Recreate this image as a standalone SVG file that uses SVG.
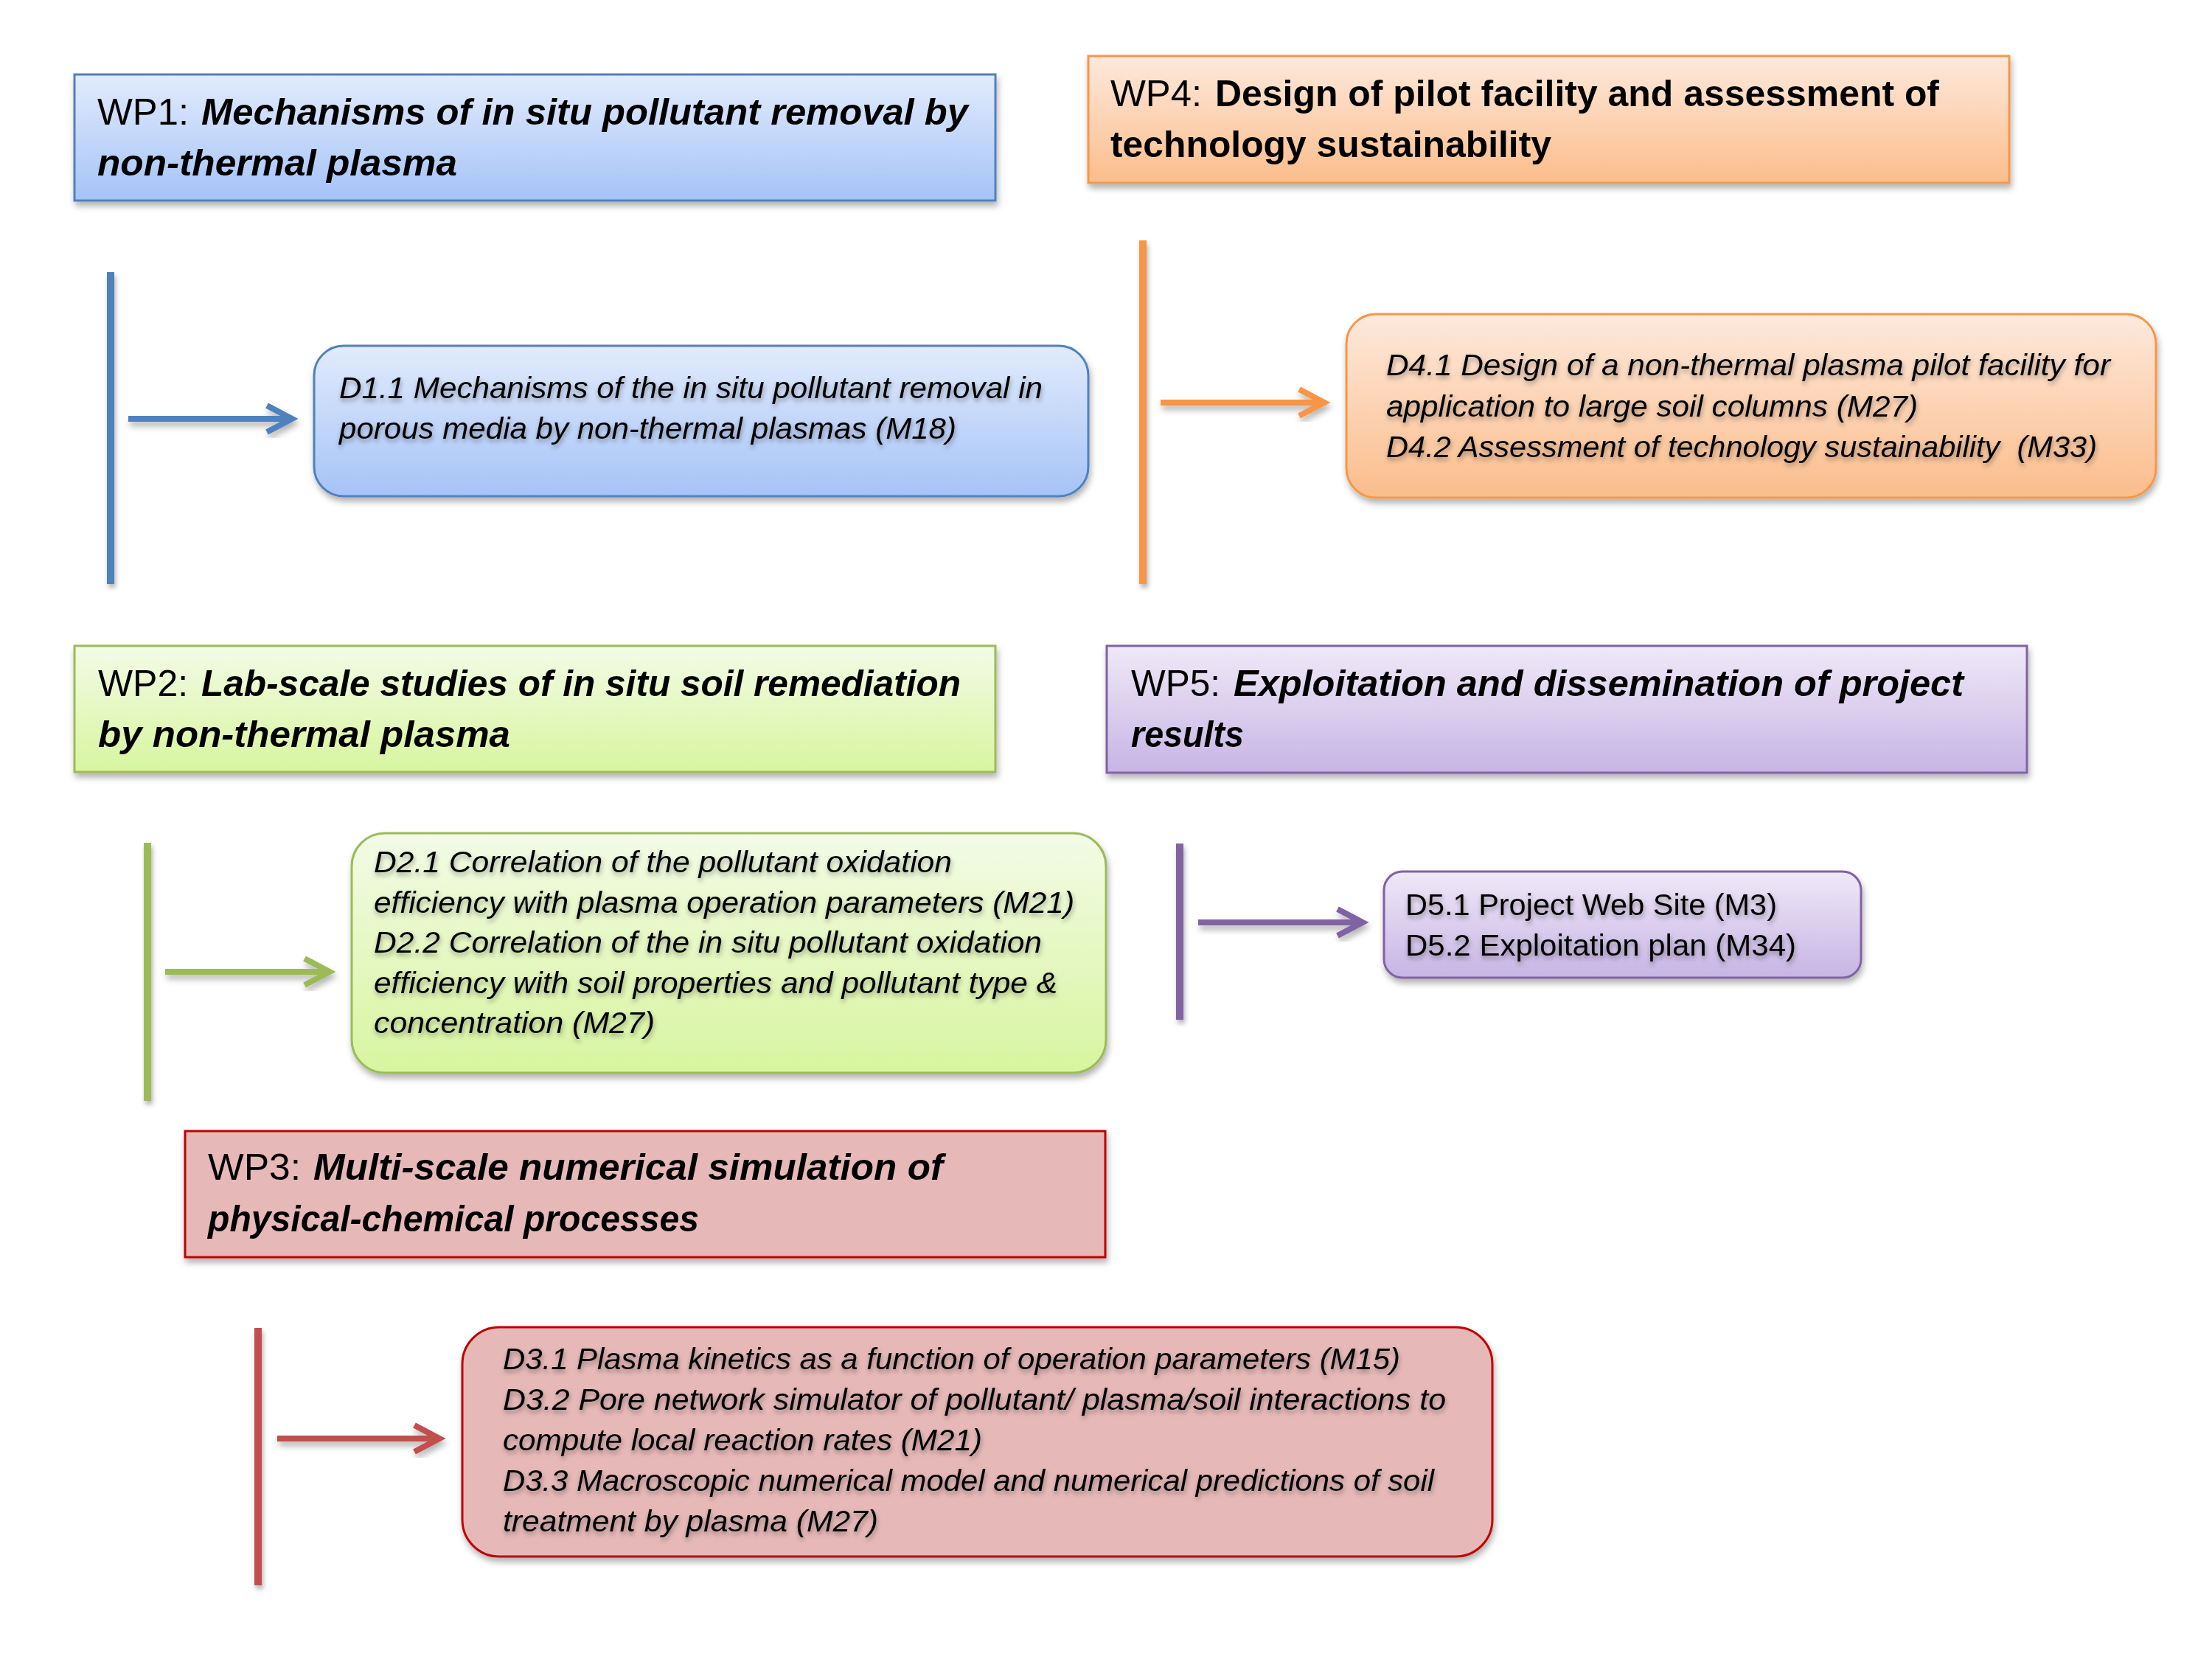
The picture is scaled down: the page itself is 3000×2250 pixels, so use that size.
<svg xmlns="http://www.w3.org/2000/svg" width="3000" height="2250" viewBox="0 0 3000 2250">
<defs>
<style>
text{font-family:"Liberation Sans Narrow","Liberation Sans",Arial,sans-serif;fill:#000}
.t{font-size:50px}
.bi{font-weight:bold;font-style:italic}
.b{font-weight:bold}
.d{font-size:40px;font-style:italic;filter:url(#ts)}
.dn{font-size:40px;filter:url(#ts)}
.wp{stroke-width:3;filter:url(#sh)}
.dl{stroke-width:3;filter:url(#sh)}
.bar{stroke:none;filter:url(#bs)}
.arr{fill:none;stroke-width:8;filter:url(#sh)}
.blue{stroke:#4f81bd}.orange{stroke:#f79646}.green{stroke:#9bbb59}.purple{stroke:#8064a2}.red{stroke:#c0504d}
.fblue{fill:#4f81bd}.forange{fill:#f79646}.fgreen{fill:#9bbb59}.fpurple{fill:#8064a2}.fred{fill:#c0504d}
</style>
<filter id="sh" x="-10%" y="-10%" width="120%" height="130%"><feDropShadow dx="2" dy="6" stdDeviation="4" flood-color="#000" flood-opacity="0.3"/></filter>
<filter id="bs" x="-100%" y="-5%" width="300%" height="115%"><feDropShadow dx="2" dy="5" stdDeviation="3" flood-color="#000" flood-opacity="0.3"/></filter>
<filter id="ts" x="-5%" y="-30%" width="110%" height="170%"><feDropShadow dx="1" dy="4" stdDeviation="3" flood-color="#000" flood-opacity="0.35"/></filter>
<linearGradient id="gB" x1="0" y1="0" x2="0" y2="1"><stop offset="0" stop-color="#e2ebfc"/><stop offset="1" stop-color="#a5c3f7"/></linearGradient>
<linearGradient id="gO" x1="0" y1="0" x2="0" y2="1"><stop offset="0" stop-color="#fde9dc"/><stop offset="1" stop-color="#fbbd8b"/></linearGradient>
<linearGradient id="gG" x1="0" y1="0" x2="0" y2="1"><stop offset="0" stop-color="#f3fbe6"/><stop offset="1" stop-color="#d7f59f"/></linearGradient>
<linearGradient id="gP" x1="0" y1="0" x2="0" y2="1"><stop offset="0" stop-color="#efe9f7"/><stop offset="1" stop-color="#c7b4e5"/></linearGradient>
</defs>
<rect width="3000" height="2250" fill="#fff"/>

<g id="connectors">
<rect class="bar fblue" x="145" y="369" width="10" height="423"/>
<path class="arr blue" d="M174 568 H396 M362 550 L396 568 L362 586"/>
<rect class="bar forange" x="1545" y="326" width="10" height="466"/>
<path class="arr orange" d="M1574 546 H1796 M1762 528 L1796 546 L1762 564"/>
<rect class="bar fgreen" x="195" y="1143" width="10" height="350"/>
<path class="arr green" d="M224 1318 H447 M413 1300 L447 1318 L413 1336"/>
<rect class="bar fpurple" x="1595" y="1144" width="10" height="239"/>
<path class="arr purple" d="M1625 1251 H1848 M1814 1233 L1848 1251 L1814 1269"/>
<rect class="bar fred" x="345" y="1801" width="10" height="349"/>
<path class="arr red" d="M376 1951 H596 M562 1933 L596 1951 L562 1969"/>
</g>

<g id="wp1">
<rect class="wp" x="101" y="101" width="1249" height="171" fill="url(#gB)" stroke="#4f81bd"/>
<text class="t" y="169"><tspan x="132" textLength="124" lengthAdjust="spacingAndGlyphs">WP1:</tspan><tspan class="bi" x="273" textLength="1040" lengthAdjust="spacingAndGlyphs">Mechanisms of in situ pollutant removal by</tspan></text>
<text class="t bi" x="132" y="238" textLength="488" lengthAdjust="spacingAndGlyphs">non-thermal plasma</text>
</g>

<g id="d1">
<rect class="dl" x="426" y="469" width="1050" height="204" rx="40" fill="url(#gB)" stroke="#4f81bd"/>
<text class="d" x="460" y="540" textLength="954" lengthAdjust="spacingAndGlyphs">D1.1 Mechanisms of the in situ pollutant removal in</text>
<text class="d" x="460" y="595" textLength="837" lengthAdjust="spacingAndGlyphs">porous media by non-thermal plasmas (M18)</text>
</g>

<g id="wp4">
<rect class="wp" x="1476" y="76" width="1249" height="172" fill="url(#gO)" stroke="#f79646"/>
<text class="t" y="144"><tspan x="1506" textLength="124" lengthAdjust="spacingAndGlyphs">WP4:</tspan><tspan class="b" x="1648" textLength="982" lengthAdjust="spacingAndGlyphs">Design of pilot facility and assessment of</tspan></text>
<text class="t b" x="1506" y="213" textLength="598" lengthAdjust="spacingAndGlyphs">technology sustainability</text>
</g>

<g id="d4">
<rect class="dl" x="1826" y="426" width="1098" height="249" rx="40" fill="url(#gO)" stroke="#f79646"/>
<text class="d" x="1880" y="509" textLength="982" lengthAdjust="spacingAndGlyphs">D4.1 Design of a non-thermal plasma pilot facility for</text>
<text class="d" x="1880" y="565" textLength="721" lengthAdjust="spacingAndGlyphs">application to large soil columns (M27)</text>
<text class="d" x="1880" y="620" textLength="964" lengthAdjust="spacingAndGlyphs">D4.2 Assessment of technology sustainability&#160; (M33)</text>
</g>

<g id="wp2">
<rect class="wp" x="101" y="876" width="1249" height="171" fill="url(#gG)" stroke="#9bbb59"/>
<text class="t" y="944"><tspan x="133" textLength="122" lengthAdjust="spacingAndGlyphs">WP2:</tspan><tspan class="bi" x="273" textLength="1030" lengthAdjust="spacingAndGlyphs">Lab-scale studies of in situ soil remediation</tspan></text>
<text class="t bi" x="133" y="1013" textLength="559" lengthAdjust="spacingAndGlyphs">by non-thermal plasma</text>
</g>

<g id="d2">
<rect class="dl" x="477" y="1130" width="1023" height="325" rx="45" fill="url(#gG)" stroke="#9bbb59"/>
<text class="d" x="507" y="1183" textLength="784" lengthAdjust="spacingAndGlyphs">D2.1 Correlation of the pollutant oxidation</text>
<text class="d" x="507" y="1238" textLength="950" lengthAdjust="spacingAndGlyphs">efficiency with plasma operation parameters (M21)</text>
<text class="d" x="507" y="1292" textLength="906" lengthAdjust="spacingAndGlyphs">D2.2 Correlation of the in situ pollutant oxidation</text>
<text class="d" x="507" y="1347" textLength="927" lengthAdjust="spacingAndGlyphs">efficiency with soil properties and pollutant type &amp;</text>
<text class="d" x="507" y="1401" textLength="381" lengthAdjust="spacingAndGlyphs">concentration (M27)</text>
</g>

<g id="wp5">
<rect class="wp" x="1501" y="876" width="1248" height="172" fill="url(#gP)" stroke="#8064a2"/>
<text class="t" y="944"><tspan x="1534" textLength="121" lengthAdjust="spacingAndGlyphs">WP5:</tspan><tspan class="bi" x="1673" textLength="990" lengthAdjust="spacingAndGlyphs">Exploitation and dissemination of project</tspan></text>
<text class="t bi" x="1534" y="1013" textLength="153" lengthAdjust="spacingAndGlyphs">results</text>
</g>

<g id="d5">
<rect class="dl" x="1877" y="1182" width="647" height="144" rx="25" fill="url(#gP)" stroke="#8064a2"/>
<text class="dn" x="1906" y="1241" textLength="504" lengthAdjust="spacingAndGlyphs">D5.1 Project Web Site (M3)</text>
<text class="dn" x="1906" y="1296" textLength="530" lengthAdjust="spacingAndGlyphs">D5.2 Exploitation plan (M34)</text>
</g>

<g id="wp3">
<rect class="wp" x="251" y="1534" width="1248" height="171" fill="#e6b9b8" stroke="#c00000"/>
<text class="t" y="1600"><tspan x="282" textLength="126" lengthAdjust="spacingAndGlyphs">WP3:</tspan><tspan class="bi" x="425" textLength="854" lengthAdjust="spacingAndGlyphs">Multi-scale numerical simulation of</tspan></text>
<text class="t bi" x="282" y="1670" textLength="666" lengthAdjust="spacingAndGlyphs">physical-chemical processes</text>
</g>

<g id="d3">
<rect class="dl" x="627" y="1800" width="1397" height="311" rx="50" fill="#e6b9b8" stroke="#c00000"/>
<text class="d" x="682" y="1857" textLength="1217" lengthAdjust="spacingAndGlyphs">D3.1 Plasma kinetics as a function of operation parameters (M15)</text>
<text class="d" x="682" y="1912" textLength="1279" lengthAdjust="spacingAndGlyphs">D3.2 Pore network simulator of pollutant/ plasma/soil interactions to</text>
<text class="d" x="682" y="1967" textLength="650" lengthAdjust="spacingAndGlyphs">compute local reaction rates (M21)</text>
<text class="d" x="682" y="2022" textLength="1263" lengthAdjust="spacingAndGlyphs">D3.3 Macroscopic numerical model and numerical predictions of soil</text>
<text class="d" x="682" y="2077" textLength="509" lengthAdjust="spacingAndGlyphs">treatment by plasma (M27)</text>
</g>
</svg>
